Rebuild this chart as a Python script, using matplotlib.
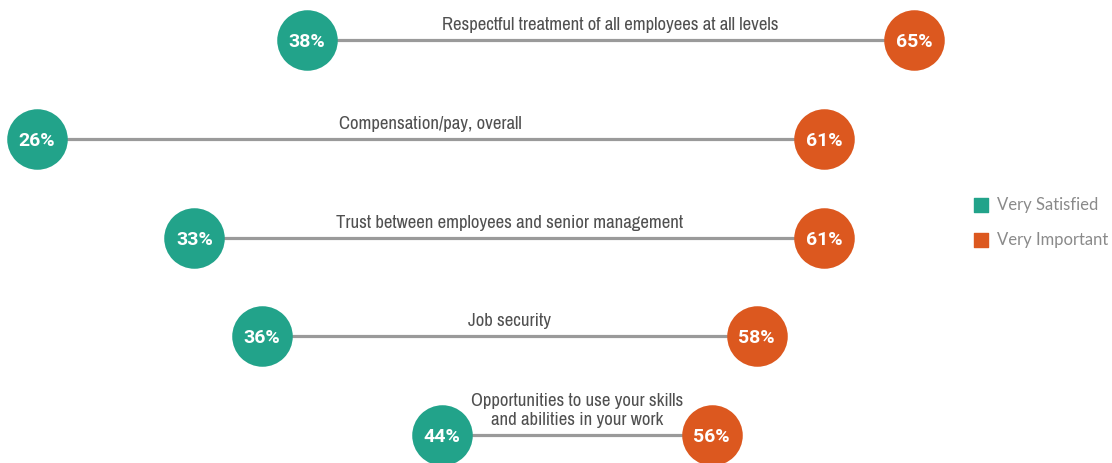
import matplotlib.pyplot as plt
from matplotlib import font_manager

labels = [
    "Respectful treatment of all employees at all levels",
    "Compensation/pay, overall",
    "Trust between employees and senior management",
    "Job security",
    "Opportunities to use your skills\nand abilities in your work",
]
satisfied = [38, 26, 33, 36, 44]
important = [65, 61, 61, 58, 56]

teal = "#22a38a"
orange = "#dc581f"

names = sorted({f.name for f in font_manager.fontManager.ttflist})
narrow = [n for n in names if "Narrow" in n or "Condensed" in n]
font = narrow[:1] + ["Roboto", "DejaVu Sans"] if narrow else ["Roboto", "DejaVu Sans"]
num_font = ["Roboto", "DejaVu Sans"]

fig = plt.figure(figsize=(11.12, 4.63), dpi=100)
ax = fig.add_axes([0, 0, 1, 1])

for i, (lab, s, imp) in enumerate(zip(labels, satisfied, important)):
    ax.plot([s, imp], [i, i], color="#9a9a9a", lw=2.3, zorder=1, solid_capstyle="butt")
    ax.scatter([s], [i], s=1900, color=teal, zorder=2, linewidths=0)
    ax.scatter([imp], [i], s=1900, color=orange, zorder=2, linewidths=0)
    ax.text(s, i, f"{s}%", color="white", ha="center", va="center_baseline",
            fontsize=14, fontweight="bold", family=num_font, zorder=3)
    ax.text(imp, i, f"{imp}%", color="white", ha="center", va="center_baseline",
            fontsize=14, fontweight="bold", family=num_font, zorder=3)
    ax.annotate(lab, ((s + imp) / 2, i), xytext=(0, 10), textcoords="offset pixels",
                ha="center", va="baseline", fontsize=13.5, color="#505050",
                family=font, stretch="condensed", linespacing=1.2)

# legend
ax.scatter([0.8825], [1 - 205 / 463], marker="s", s=95, color=teal,
           transform=ax.transAxes, clip_on=False)
ax.scatter([0.8825], [1 - 240 / 463], marker="s", s=95, color=orange,
           transform=ax.transAxes, clip_on=False)
ax.text(0.897, 1 - 205 / 463, "Very Satisfied", transform=ax.transAxes,
        va="center", ha="left", fontsize=12, color="#8a8a8a", family=["Lato", "DejaVu Sans"])
ax.text(0.897, 1 - 240 / 463, "Very Important", transform=ax.transAxes,
        va="center", ha="left", fontsize=12, color="#8a8a8a", family=["Lato", "DejaVu Sans"])

ax.set_xlim(24.36, 73.8)
ax.set_ylim(4 + 28 / 98.75, -40 / 98.75)
ax.axis("off")

fig.savefig("out.png", dpi=100)
